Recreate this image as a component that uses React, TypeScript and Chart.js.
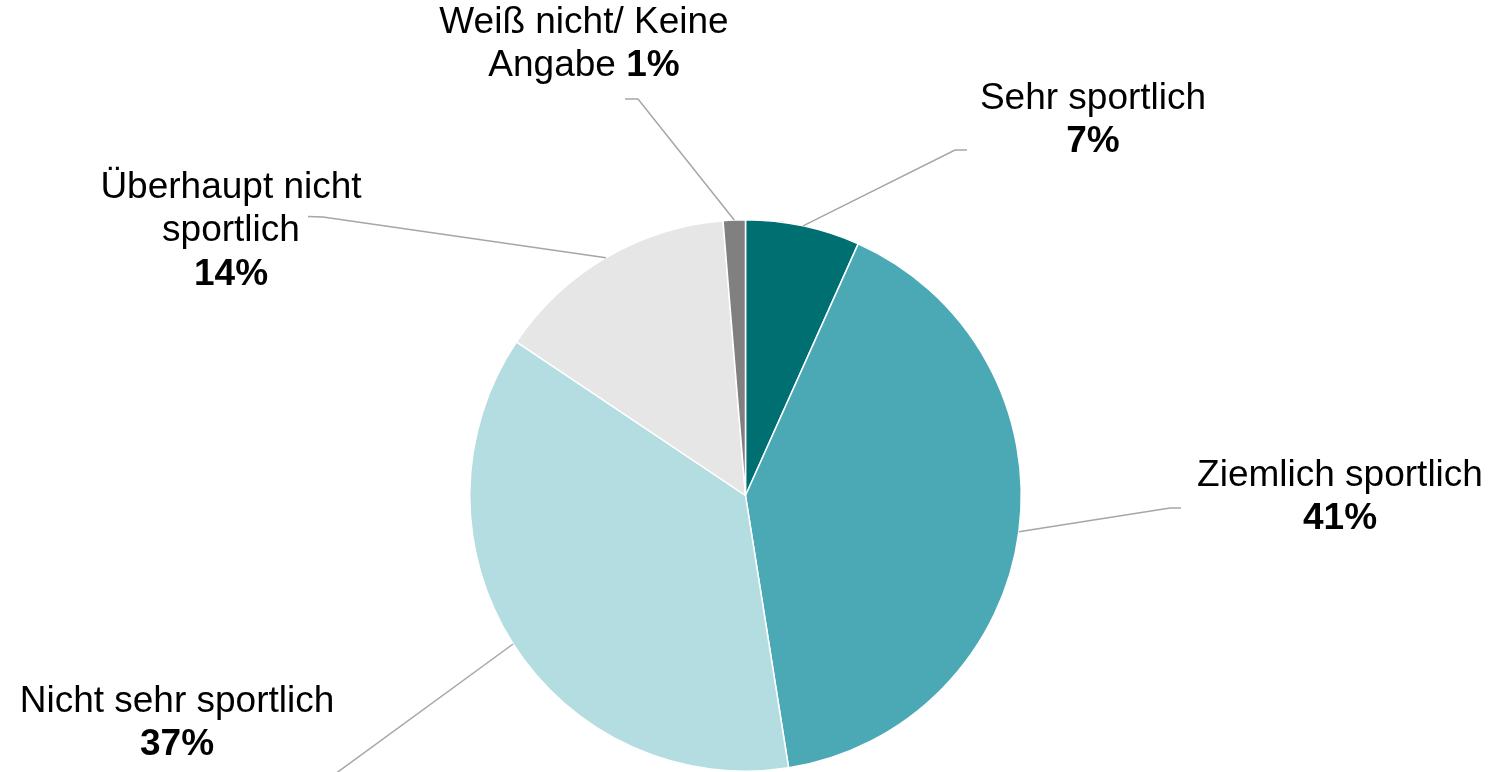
import React, { useEffect, useRef } from "react";
import { Chart, registerables } from "chart.js";

Chart.register(...registerables);

// ---- Data ----
const categories = [
  "Sehr sportlich",
  "Ziemlich sportlich",
  "Nicht sehr sportlich",
  "Überhaupt nicht sportlich",
  "Weiß nicht/ Keine Angabe",
];
const values = [6.7, 40.8, 36.9, 14.3, 1.3];
const labelLines = [
  ["Sehr sportlich"],
  ["Ziemlich sportlich"],
  ["Nicht sehr sportlich"],
  ["Überhaupt nicht", "sportlich"],
  ["Weiß nicht/ Keine", "Angabe"],
];
const pctInline = [false, false, false, false, true];

// ---- Styles / layout ----
const colors = ["#006F71", "#4AA9B4", "#B4DDE1", "#E6E6E6", "#808080"];
const FONT = '"Liberation Sans", Arial, sans-serif';
const FONT_SIZE = 37;
const LINE_H = 43.3;
const labelLayout = [
  { x: 1093, y: 109, leader: [[955, 150], [967, 150]] },
  { x: 1340, y: 486, leader: [[1170, 508], [1181, 508]] },
  { x: 177, y: 712, leader: [[320, 785]] },
  { x: 231, y: 198, leader: [[323, 217], [308, 216.5]] },
  { x: 584, y: 33, leader: [[638, 99], [625, 99]] },
];

const outerLabels = {
  id: "outerLabels",
  afterDatasetsDraw(chart: any) {
    const ctx = chart.ctx as CanvasRenderingContext2D;
    const meta = chart.getDatasetMeta(0);
    meta.data.forEach((arc: any, i: number) => {
      const p = arc.getProps(["x", "y", "startAngle", "endAngle", "outerRadius"], true);
      const mid = (p.startAngle + p.endAngle) / 2;
      const sx = p.x + Math.cos(mid) * p.outerRadius;
      const sy = p.y + Math.sin(mid) * p.outerRadius;
      const lay = labelLayout[i];
      ctx.save();
      ctx.strokeStyle = "#A6A6A6";
      ctx.lineWidth = 1.5;
      ctx.beginPath();
      ctx.moveTo(sx, sy);
      lay.leader.forEach((pt) => ctx.lineTo(pt[0], pt[1]));
      ctx.stroke();

      const pct = Math.round(values[i]) + "%";
      const lines: { text: string; bold: boolean }[][] = labelLines[i].map((t) => [
        { text: t, bold: false },
      ]);
      if (pctInline[i]) {
        lines[lines.length - 1].push({ text: " ", bold: false }, { text: pct, bold: true });
      } else {
        lines.push([{ text: pct, bold: true }]);
      }
      ctx.fillStyle = "#000000";
      ctx.textBaseline = "alphabetic";
      ctx.textAlign = "left";
      lines.forEach((segs, li) => {
        let total = 0;
        const widths = segs.map((s) => {
          ctx.font = `${s.bold ? "bold " : ""}${FONT_SIZE}px ${FONT}`;
          const w = ctx.measureText(s.text).width;
          total += w;
          return w;
        });
        let cx = lay.x - total / 2;
        const by = lay.y + li * LINE_H;
        segs.forEach((s, si) => {
          ctx.font = `${s.bold ? "bold " : ""}${FONT_SIZE}px ${FONT}`;
          ctx.fillText(s.text, cx, by);
          cx += widths[si];
        });
      });
      ctx.restore();
    });
  },
};

export default function App() {
  const ref = useRef<HTMLCanvasElement | null>(null);
  useEffect(() => {
    if (!ref.current) return;
    const chart = new Chart(ref.current, {
      type: "pie",
      data: {
        labels: categories,
        datasets: [
          {
            data: values,
            backgroundColor: colors,
            borderColor: "#FFFFFF",
            borderWidth: 1.5,
            hoverOffset: 0,
          },
        ],
      },
      options: {
        responsive: false,
        animation: false,
        layout: { padding: { top: 219, bottom: 0, left: 469, right: 469 } },
        plugins: {
          legend: { display: false },
          tooltip: { enabled: false },
        },
      },
      plugins: [outerLabels],
    });
    return () => chart.destroy();
  }, []);
  return (
    <div style={{ position: "absolute", left: 0, top: 0, width: 1491, height: 772, background: "#fff" }}>
      <canvas ref={ref} width={1491} height={772} style={{ display: "block" }} />
    </div>
  );
}
